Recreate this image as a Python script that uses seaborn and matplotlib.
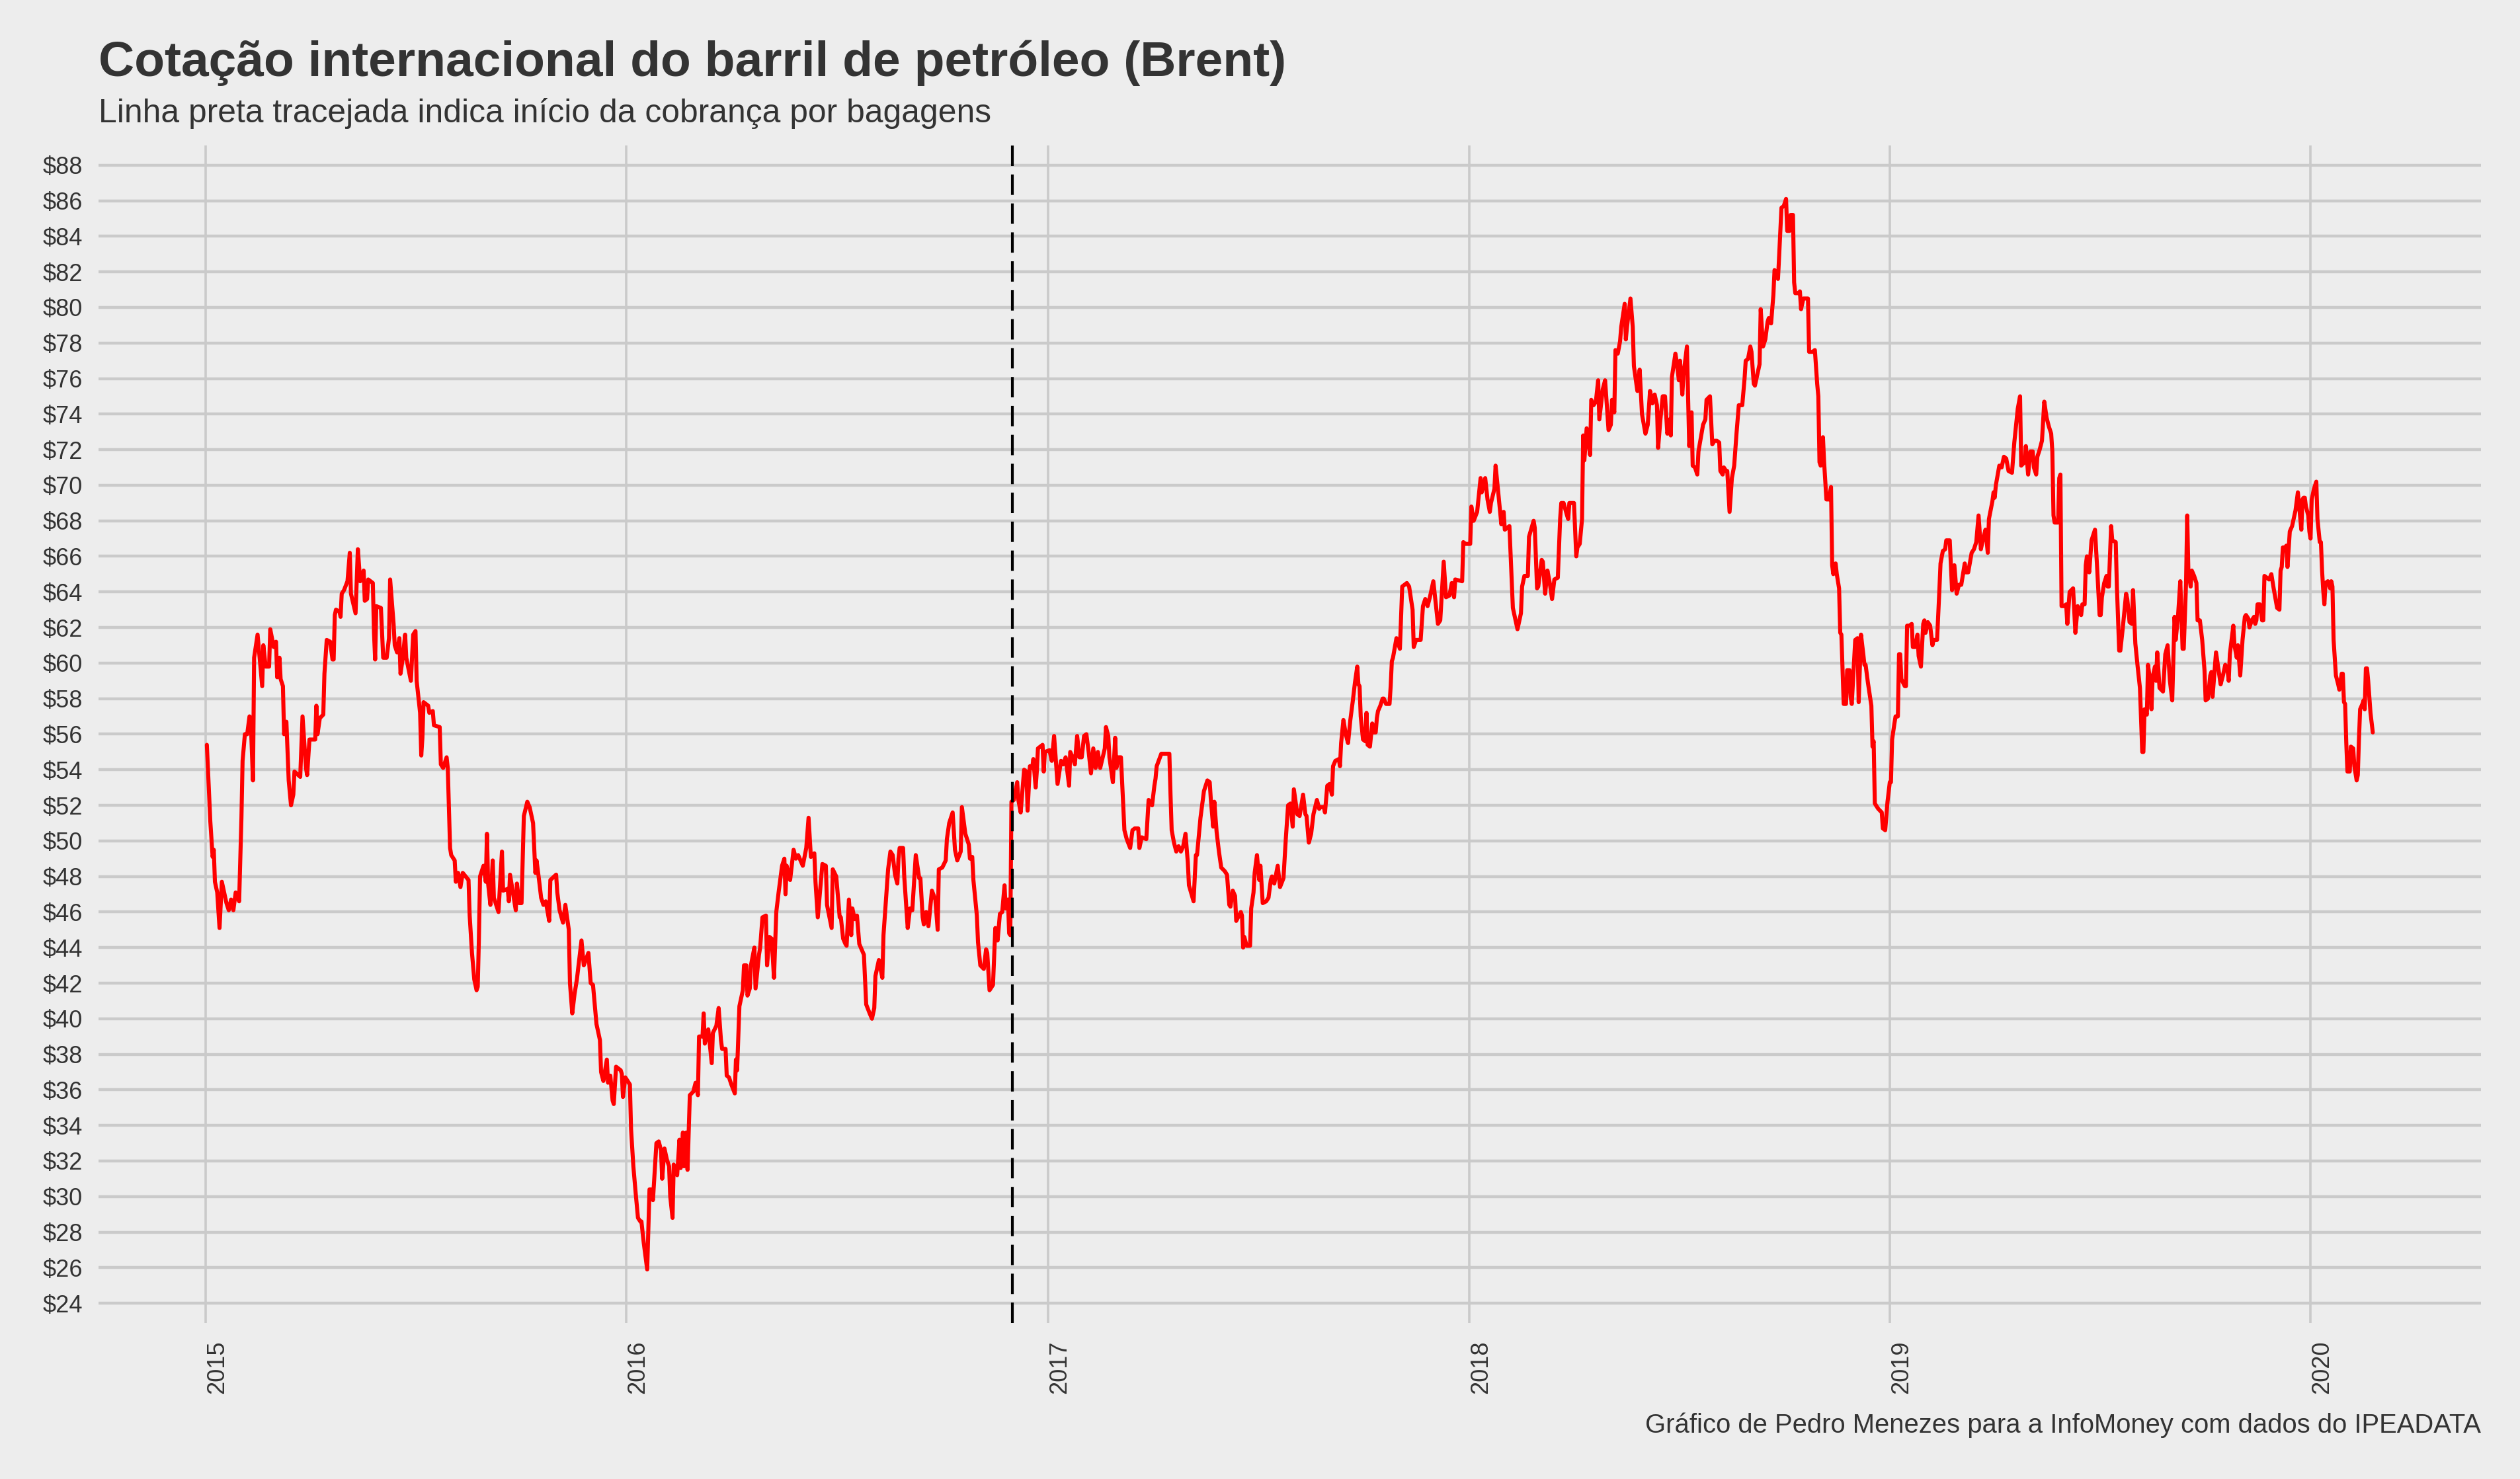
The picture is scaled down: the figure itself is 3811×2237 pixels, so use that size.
import pandas as pd
import matplotlib.pyplot as plt
import matplotlib.dates as mdates
import seaborn as sns

# cotação do Brent (US$), por ano
dias_2015 = ["01-02", "01-05", "01-07", "01-08", "01-09", "01-11", "01-13", "01-15", "01-17", "01-19",
             "01-21", "01-23", "01-25", "01-27", "01-30", "02-01", "02-02", "02-04", "02-06", "02-08",
             "02-09", "02-11", "02-12", "02-15", "02-19", "02-20", "02-22", "02-25", "02-26", "03-01",
             "03-03", "03-04", "03-06", "03-07", "03-09", "03-10", "03-12", "03-14", "03-16", "03-18",
             "03-19", "03-24", "03-26", "03-29", "03-30", "04-01", "04-06", "04-07", "04-08", "04-10",
             "04-13", "04-14", "04-16", "04-19", "04-21", "04-22", "04-23", "04-24", "04-27", "04-28",
             "04-29", "05-01", "05-04", "05-06", "05-07", "05-11", "05-13", "05-15", "05-16", "05-18",
             "05-19", "05-21", "05-22", "05-26", "05-27", "05-28", "05-29", "06-02", "06-04", "06-07",
             "06-09", "06-10", "06-13", "06-14", "06-16", "06-18", "06-19", "06-21", "06-23", "06-24",
             "06-28", "06-30", "07-02", "07-03", "07-06", "07-07", "07-08", "07-09", "07-13", "07-14",
             "07-17", "07-18", "07-23", "07-24", "07-26", "07-29", "07-30", "08-01", "08-02", "08-05",
             "08-06", "08-08", "08-10", "08-12", "08-17", "08-18", "08-20", "08-22", "08-24", "08-25",
             "08-26", "08-27", "08-30", "09-01", "09-02", "09-03", "09-05", "09-07", "09-08", "09-12",
             "09-15", "09-16", "09-20", "09-21", "09-22", "09-24", "09-27", "09-28", "09-30", "10-02",
             "10-04", "10-07", "10-09", "10-12", "10-14", "10-15", "10-17", "10-19", "10-21", "10-23",
             "10-26", "10-27", "11-01", "11-02", "11-04", "11-07", "11-09", "11-12", "11-13", "11-15",
             "11-17", "11-19", "11-23", "11-25", "11-29", "12-01", "12-03", "12-06", "12-09", "12-10",
             "12-12", "12-15", "12-16", "12-18", "12-20", "12-21", "12-23", "12-27", "12-28", "12-29",
             "12-31"]
brent_2015 = [55.4, 51.1, 49.1, 49.5, 47.7, 47.1, 45.1, 47.7, 47.1, 46.5,
              46.1, 46.7, 46.1, 47.1, 46.6, 51.3, 54.5, 56.0, 56.0, 57.0,
              56.9, 53.4, 60.3, 61.6, 58.7, 61.0, 59.8, 59.8, 61.9, 60.9,
              61.2, 59.2, 60.3, 59.1, 58.7, 56.0, 56.7, 53.4, 52.0, 52.6,
              53.9, 53.6, 57.0, 54.1, 53.7, 55.7, 55.7, 57.6, 56.0, 56.9,
              57.1, 59.4, 61.3, 61.2, 60.2, 60.2, 62.7, 63.0, 62.9, 62.6,
              63.9, 64.1, 64.6, 66.2, 63.9, 62.8, 66.4, 64.6, 64.7, 65.2,
              63.5, 63.6, 64.7, 64.5, 61.7, 60.2, 63.2, 63.1, 60.3, 60.3,
              61.4, 64.7, 62.2, 61.0, 60.6, 61.4, 59.4, 60.3, 61.6, 60.3,
              59.0, 61.6, 61.8, 59.0, 57.2, 54.8, 55.8, 57.8, 57.6, 57.2,
              57.3, 56.5, 56.4, 54.3, 54.1, 54.7, 54.1, 49.6, 49.2, 48.9,
              47.7, 48.2, 47.4, 48.2, 47.8, 45.8, 43.7, 42.2, 41.6, 41.8,
              44.5, 48.0, 48.6, 47.7, 50.4, 47.6, 46.4, 48.9, 46.8, 46.0,
              49.4, 47.2, 47.3, 46.6, 48.1, 47.3, 46.1, 47.6, 46.5, 46.5,
              51.4, 52.2, 51.9, 51.0, 48.2, 48.9, 47.9, 46.8, 46.4, 46.6,
              45.5, 47.8, 48.1, 47.1, 46.1, 45.4, 46.4, 45.0, 42.0, 40.3,
              41.4, 42.2, 44.4, 43.0, 43.7, 42.0, 41.9, 39.7, 38.8, 37.0,
              36.5, 37.7, 36.4, 36.8, 35.4, 35.2, 37.3, 37.1, 36.9, 35.6,
              36.7]

dias_2016 = ["01-04", "01-05", "01-07", "01-09", "01-11", "01-13", "01-14", "01-16", "01-19", "01-21",
             "01-22", "01-24", "01-27", "01-29", "01-31", "02-01", "02-03", "02-05", "02-07", "02-08",
             "02-10", "02-11", "02-14", "02-16", "02-17", "02-19", "02-20", "02-22", "02-23", "02-25",
             "02-28", "03-01", "03-03", "03-04", "03-07", "03-08", "03-09", "03-12", "03-15", "03-16",
             "03-19", "03-21", "03-23", "03-24", "03-27", "03-28", "03-30", "04-01", "04-04", "04-05",
             "04-06", "04-08", "04-11", "04-12", "04-14", "04-15", "04-17", "04-18", "04-21", "04-22",
             "04-25", "04-26", "04-28", "05-01", "05-02", "05-04", "05-06", "05-08", "05-10", "05-12",
             "05-15", "05-17", "05-18", "05-19", "05-22", "05-25", "05-27", "05-29", "06-02", "06-05",
             "06-07", "06-09", "06-12", "06-13", "06-15", "06-19", "06-22", "06-23", "06-27", "06-28",
             "07-01", "07-04", "07-05", "07-07", "07-09", "07-10", "07-12", "07-14", "07-15", "07-17",
             "07-19", "07-21", "07-25", "07-27", "07-30", "08-01", "08-03", "08-04", "08-07", "08-10",
             "08-11", "08-15", "08-17", "08-19", "08-21", "08-23", "08-24", "08-25", "08-28", "08-29",
             "09-01", "09-03", "09-05", "09-08", "09-11", "09-12", "09-14", "09-15", "09-17", "09-19",
             "09-22", "09-25", "09-27", "09-28", "10-01", "10-04", "10-05", "10-07", "10-10", "10-12",
             "10-14", "10-17", "10-18", "10-21", "10-24", "10-25", "10-27", "10-28", "10-31", "11-01",
             "11-03", "11-06", "11-08", "11-09", "11-11", "11-14", "11-16", "11-18", "11-20", "11-22",
             "11-24", "11-25", "11-27", "11-28", "11-29", "11-30", "12-02", "12-05", "12-06", "12-08",
             "12-11", "12-13", "12-14", "12-16", "12-18", "12-19", "12-21", "12-22", "12-23", "12-27",
             "12-28", "12-29"]
brent_2016 = [36.3, 33.8, 31.7, 30.2, 28.8, 28.6, 28.6, 27.4, 25.9, 30.4,
              30.4, 29.8, 33.0, 33.1, 32.6, 31.0, 32.7, 32.1, 31.7, 30.0,
              28.8, 31.8, 31.2, 33.2, 31.6, 33.6, 31.7, 33.6, 31.5, 35.7,
              35.9, 36.4, 35.7, 39.0, 39.0, 40.3, 38.6, 39.4, 37.5, 39.2,
              39.6, 40.6, 38.8, 38.3, 38.3, 36.8, 36.7, 36.3, 35.8, 37.7,
              37.1, 40.7, 41.6, 43.0, 43.0, 41.3, 41.7, 43.0, 44.0, 41.7,
              43.6, 44.0, 45.7, 45.8, 43.0, 44.6, 44.5, 42.3, 46.0, 47.1,
              48.6, 49.0, 47.0, 48.6, 47.8, 49.5, 49.0, 49.2, 48.6, 49.6,
              51.3, 49.1, 49.3, 47.7, 45.7, 48.7, 48.6, 46.4, 45.1, 48.4,
              48.0, 45.7, 45.7, 44.5, 44.2, 44.1, 46.7, 44.7, 46.2, 45.6,
              45.8, 44.2, 43.6, 40.8, 40.3, 40.0, 40.6, 42.4, 43.3, 42.3,
              44.7, 48.4, 49.4, 49.2, 48.1, 47.6, 49.0, 49.6, 49.6, 48.0,
              45.1, 46.2, 46.1, 49.2, 47.9, 47.9, 45.7, 45.3, 46.0, 45.2,
              47.2, 46.7, 45.0, 48.4, 48.5, 48.9, 50.1, 51.0, 51.6, 49.5,
              48.9, 49.4, 51.9, 50.4, 49.8, 49.0, 49.1, 47.8, 45.8, 44.3,
              43.0, 42.8, 43.9, 43.7, 41.6, 41.9, 45.1, 44.4, 45.9, 46.0,
              47.5, 46.2, 46.7, 44.8, 44.7, 52.2, 52.3, 53.3, 52.3, 51.6,
              54.0, 53.9, 51.7, 54.2, 54.1, 54.6, 53.0, 53.9, 55.2, 55.4,
              53.9, 55.0]

dias_2017 = ["01-02", "01-04", "01-06", "01-09", "01-12", "01-14", "01-16", "01-19", "01-20", "01-22",
             "01-24", "01-26", "01-28", "01-30", "02-01", "02-03", "02-05", "02-07", "02-09", "02-11",
             "02-13", "02-15", "02-19", "02-20", "02-22", "02-23", "02-26", "02-28", "03-01", "03-03",
             "03-05", "03-08", "03-10", "03-13", "03-15", "03-17", "03-20", "03-21", "03-23", "03-27",
             "03-29", "04-01", "04-03", "04-04", "04-05", "04-09", "04-16", "04-17", "04-18", "04-20",
             "04-22", "04-24", "04-26", "04-28", "04-30", "05-02", "05-03", "05-07", "05-09", "05-10",
             "05-13", "05-14", "05-16", "05-19", "05-21", "05-22", "05-24", "05-25", "05-27", "05-29",
             "05-31", "06-03", "06-05", "06-07", "06-08", "06-10", "06-12", "06-13", "06-17", "06-18",
             "06-19", "06-20", "06-22", "06-25", "06-26", "06-28", "06-29", "07-01", "07-03", "07-04",
             "07-06", "07-09", "07-11", "07-13", "07-14", "07-16", "07-19", "07-21", "07-24", "07-26",
             "07-28", "07-30", "08-01", "08-02", "08-05", "08-07", "08-10", "08-12", "08-13", "08-15",
             "08-17", "08-19", "08-22", "08-24", "08-25", "08-28", "08-29", "08-31", "09-02", "09-04",
             "09-05", "09-07", "09-10", "09-11", "09-12", "09-14", "09-16", "09-18", "09-20", "09-22",
             "09-24", "09-26", "09-27", "09-28", "09-29", "10-01", "10-03", "10-04", "10-05", "10-07",
             "10-09", "10-10", "10-12", "10-13", "10-14", "10-16", "10-18", "10-19", "10-21", "10-24",
             "10-25", "10-26", "10-27", "10-30", "11-02", "11-04", "11-08", "11-10", "11-13", "11-14",
             "11-16", "11-20", "11-22", "11-24", "11-26", "11-28", "12-01", "12-03", "12-05", "12-07",
             "12-10", "12-12", "12-15", "12-17", "12-19", "12-20", "12-26", "12-27", "12-29"]
brent_2017 = [55.1, 54.5, 55.9, 53.2, 54.5, 54.3, 54.7, 53.1, 55.0, 54.7,
              54.3, 55.9, 54.7, 54.7, 55.9, 56.0, 55.0, 53.8, 55.2, 54.1,
              55.0, 54.1, 55.2, 56.4, 55.9, 54.7, 53.3, 55.8, 54.1, 54.7,
              54.7, 50.6, 50.1, 49.6, 50.6, 50.7, 50.7, 49.6, 50.2, 50.1,
              52.3, 52.0, 53.1, 53.5, 54.2, 54.9, 54.9, 52.6, 50.6, 49.9,
              49.4, 49.7, 49.4, 49.7, 50.4, 48.8, 47.5, 46.6, 49.2, 49.2,
              51.3, 51.8, 52.8, 53.4, 53.3, 52.3, 50.8, 52.2, 50.5, 49.4,
              48.5, 48.3, 48.1, 46.4, 46.3, 47.2, 46.9, 45.5, 46.0, 45.8,
              44.0, 44.6, 44.1, 44.1, 46.2, 47.1, 48.2, 49.2, 47.8, 48.6,
              46.5, 46.6, 46.8, 47.8, 48.0, 47.6, 48.6, 47.4, 47.9, 50.1,
              52.0, 52.1, 50.8, 52.9, 51.5, 51.4, 52.6, 51.5, 51.4, 49.9,
              50.4, 51.5, 52.3, 51.8, 51.9, 51.9, 51.6, 53.1, 53.2, 52.6,
              54.2, 54.5, 54.6, 54.2, 55.5, 56.8, 56.0, 55.5, 56.8, 57.8,
              58.9, 59.8, 58.8, 58.7, 57.0, 55.7, 55.6, 57.2, 55.4, 55.3,
              56.6, 56.1, 56.1, 56.9, 57.3, 57.6, 58.0, 58.0, 57.7, 57.7,
              58.7, 60.1, 60.3, 61.4, 60.8, 64.3, 64.5, 64.3, 63.0, 60.9,
              61.3, 61.3, 63.2, 63.6, 63.2, 63.7, 64.6, 63.4, 62.2, 62.4,
              65.7, 63.7, 63.8, 64.5, 63.7, 64.7, 64.6, 66.8, 66.7]

dias_2018 = ["01-02", "01-03", "01-05", "01-08", "01-11", "01-12", "01-15", "01-17", "01-19", "01-20",
             "01-23", "01-24", "01-26", "01-29", "01-31", "02-01", "02-05", "02-08", "02-12", "02-15",
             "02-16", "02-18", "02-21", "02-22", "02-26", "02-27", "03-01", "03-02", "03-05", "03-06",
             "03-08", "03-10", "03-12", "03-14", "03-16", "03-19", "03-21", "03-22", "03-24", "03-27",
             "03-28", "03-29", "04-02", "04-04", "04-05", "04-07", "04-09", "04-10", "04-11", "04-13",
             "04-16", "04-17", "04-19", "04-21", "04-23", "04-24", "04-27", "04-29", "05-02", "05-04",
             "05-05", "05-07", "05-08", "05-10", "05-12", "05-13", "05-16", "05-17", "05-18", "05-21",
             "05-23", "05-24", "05-27", "05-29", "05-31", "06-03", "06-05", "06-07", "06-09", "06-11",
             "06-13", "06-14", "06-16", "06-18", "06-20", "06-22", "06-24", "06-25", "06-26", "06-29",
             "06-30", "07-02", "07-03", "07-05", "07-06", "07-09", "07-11", "07-13", "07-14", "07-16",
             "07-18", "07-19", "07-23", "07-25", "07-26", "07-29", "07-31", "08-02", "08-04", "08-06",
             "08-07", "08-09", "08-10", "08-12", "08-13", "08-15", "08-17", "08-19", "08-21", "08-23",
             "08-26", "08-28", "08-29", "08-31", "09-02", "09-03", "09-05", "09-06", "09-10", "09-11",
             "09-13", "09-15", "09-17", "09-18", "09-20", "09-22", "09-23", "09-26", "09-27", "09-29",
             "10-01", "10-03", "10-04", "10-06", "10-07", "10-09", "10-10", "10-11", "10-14", "10-15",
             "10-16", "10-18", "10-22", "10-23", "10-26", "10-28", "10-30", "10-31", "11-01", "11-02",
             "11-04", "11-05", "11-07", "11-09", "11-11", "11-12", "11-13", "11-15", "11-16", "11-18",
             "11-19", "11-20", "11-22", "11-24", "11-25", "11-27", "11-28", "11-29", "12-02", "12-04",
             "12-05", "12-07", "12-09", "12-10", "12-11", "12-13", "12-16", "12-17", "12-18", "12-19",
             "12-22", "12-25", "12-26", "12-28", "12-30"]
brent_2018 = [66.7, 68.8, 68.0, 68.5, 70.4, 69.6, 70.4, 69.2, 68.5, 69.0,
              69.8, 71.1, 69.8, 67.8, 68.5, 67.5, 67.7, 63.1, 61.9, 62.8,
              64.3, 64.9, 64.9, 67.1, 68.0, 67.6, 64.2, 64.3, 65.8, 65.7,
              63.9, 65.2, 64.5, 63.6, 64.7, 64.8, 68.1, 69.0, 69.0, 68.3,
              68.1, 69.0, 69.0, 66.0, 66.5, 66.7, 68.1, 72.8, 71.4, 73.2,
              71.7, 74.8, 74.5, 74.7, 75.9, 73.7, 75.4, 75.9, 73.1, 73.4,
              74.8, 74.1, 77.6, 77.4, 78.1, 78.9, 80.2, 78.2, 78.9, 80.5,
              78.9, 76.7, 75.3, 76.5, 74.0, 72.9, 73.4, 75.3, 74.6, 75.1,
              74.5, 72.1, 73.7, 75.0, 75.0, 72.9, 73.7, 72.8, 76.1, 77.4,
              77.0, 75.9, 77.0, 75.1, 76.2, 77.8, 72.2, 74.1, 71.1, 71.0,
              70.6, 71.9, 73.4, 73.7, 74.8, 75.0, 72.3, 72.5, 72.5, 72.4,
              70.8, 70.6, 71.0, 70.8, 70.8, 68.5, 70.4, 71.1, 72.9, 74.5,
              74.5, 76.0, 77.0, 77.1, 77.8, 77.5, 75.7, 75.6, 76.8, 79.9,
              77.8, 78.2, 79.2, 79.4, 79.1, 80.7, 82.1, 81.6, 82.9, 85.6,
              85.7, 86.1, 84.3, 84.3, 85.2, 85.2, 81.4, 80.8, 80.8, 80.9,
              79.9, 80.5, 80.5, 77.5, 77.5, 77.6, 75.7, 75.0, 71.3, 71.1,
              72.7, 71.3, 69.2, 69.2, 69.9, 65.5, 65.0, 65.6, 65.0, 64.2,
              61.7, 61.6, 57.7, 57.7, 59.6, 59.6, 58.1, 57.7, 61.3, 61.4,
              57.8, 61.6, 60.5, 59.9, 59.9, 58.9, 57.6, 55.3, 55.6, 52.1,
              51.8, 51.6, 50.7, 50.6, 52.2]

dias_2019 = ["01-01", "01-02", "01-03", "01-05", "01-06", "01-08", "01-09", "01-10", "01-11", "01-14",
             "01-15", "01-16", "01-18", "01-20", "01-21", "01-23", "01-25", "01-26", "01-28", "01-30",
             "01-31", "02-01", "02-03", "02-05", "02-07", "02-08", "02-11", "02-12", "02-13", "02-14",
             "02-16", "02-18", "02-19", "02-22", "02-24", "02-26", "02-28", "03-02", "03-04", "03-07",
             "03-08", "03-10", "03-13", "03-15", "03-17", "03-19", "03-21", "03-23", "03-25", "03-27",
             "03-28", "03-31", "04-01", "04-02", "04-03", "04-06", "04-08", "04-10", "04-12", "04-14",
             "04-17", "04-19", "04-22", "04-24", "04-25", "04-28", "04-29", "05-01", "05-03", "05-05",
             "05-06", "05-08", "05-09", "05-11", "05-13", "05-15", "05-17", "05-19", "05-21", "05-22",
             "05-23", "05-24", "05-27", "05-28", "05-29", "05-30", "06-01", "06-03", "06-04", "06-06",
             "06-09", "06-11", "06-13", "06-15", "06-16", "06-17", "06-19", "06-20", "06-21", "06-23",
             "06-25", "06-28", "06-30", "07-02", "07-03", "07-04", "07-06", "07-08", "07-09", "07-10",
             "07-12", "07-13", "07-16", "07-17", "07-19", "07-20", "07-22", "07-25", "07-26", "07-28",
             "07-30", "07-31", "08-02", "08-04", "08-06", "08-08", "08-09", "08-10", "08-12", "08-13",
             "08-15", "08-16", "08-17", "08-19", "08-20", "08-21", "08-23", "08-26", "08-28", "08-30",
             "09-01", "09-03", "09-05", "09-06", "09-08", "09-10", "09-12", "09-13", "09-15", "09-16",
             "09-17", "09-19", "09-20", "09-22", "09-24", "09-25", "09-27", "09-29", "10-01", "10-02",
             "10-04", "10-06", "10-07", "10-08", "10-10", "10-11", "10-13", "10-15", "10-17", "10-19",
             "10-21", "10-22", "10-23", "10-26", "10-27", "10-29", "10-30", "11-01", "11-03", "11-05",
             "11-06", "11-08", "11-09", "11-11", "11-13", "11-14", "11-15", "11-16", "11-18", "11-20",
             "11-21", "11-22", "11-24", "11-26", "11-28", "11-30", "12-03", "12-05", "12-06", "12-07",
             "12-08", "12-10", "12-11", "12-12", "12-14", "12-16", "12-17", "12-19", "12-21", "12-23",
             "12-24", "12-25", "12-26", "12-27", "12-28", "12-30", "12-31"]
brent_2019 = [53.3, 53.3, 55.7, 56.6, 57.0, 57.0, 60.5, 60.5, 59.1, 58.7,
              58.7, 62.1, 62.1, 62.2, 60.9, 60.9, 61.6, 60.4, 59.8, 62.2,
              62.4, 61.7, 62.3, 62.1, 61.0, 61.3, 61.3, 62.7, 64.1, 65.6,
              66.3, 66.4, 66.9, 66.9, 64.1, 65.5, 63.9, 64.4, 64.4, 65.6,
              65.1, 65.1, 66.2, 66.4, 66.8, 68.3, 66.4, 67.0, 67.5, 66.2,
              68.1, 69.1, 69.6, 69.3, 70.0, 71.1, 71.0, 71.6, 71.5, 70.8,
              70.7, 72.4, 74.3, 75.0, 71.1, 71.3, 72.2, 70.6, 71.9, 71.9,
              71.0, 70.6, 71.6, 72.0, 72.5, 74.7, 73.8, 73.3, 72.9, 71.9,
              68.3, 67.9, 67.9, 70.4, 70.6, 63.2, 63.2, 63.3, 62.2, 64.0,
              64.2, 61.7, 63.2, 62.8, 62.7, 63.3, 63.3, 65.5, 66.0, 65.1,
              66.9, 67.5, 65.2, 62.7, 62.7, 63.7, 64.5, 64.9, 64.3, 64.3,
              67.7, 66.9, 66.8, 64.3, 60.7, 60.7, 61.9, 63.9, 63.6, 62.3,
              62.2, 64.1, 61.1, 59.8, 58.6, 55.0, 55.0, 57.4, 57.1, 59.9,
              58.9, 57.4, 59.2, 59.8, 59.0, 60.6, 58.6, 58.4, 60.5, 61.0,
              59.0, 57.9, 62.6, 61.3, 62.6, 64.6, 60.8, 60.8, 64.5, 68.3,
              65.2, 64.3, 65.2, 64.9, 64.5, 62.4, 62.4, 61.3, 59.6, 57.9,
              58.0, 59.3, 59.5, 58.1, 59.8, 60.6, 59.7, 58.8, 59.3, 59.9,
              59.6, 59.0, 60.5, 62.1, 61.0, 60.3, 61.0, 59.3, 61.3, 62.6,
              62.7, 62.5, 62.0, 62.4, 62.6, 62.2, 62.4, 63.3, 63.3, 62.4,
              62.4, 64.9, 64.8, 64.7, 65.0, 64.2, 63.1, 63.0, 65.2, 65.4,
              66.5, 66.5, 66.6, 65.4, 67.4, 67.7, 68.0, 68.6, 69.6, 68.2,
              67.5, 69.2, 69.3, 69.3, 68.8, 68.3, 67.4]

dias_2020 = ["01-01", "01-02", "01-04", "01-06", "01-07", "01-09", "01-10", "01-11", "01-12", "01-13",
             "01-14", "01-16", "01-18", "01-19", "01-20", "01-21", "01-23", "01-25", "01-26", "01-28",
             "01-29", "01-30", "01-31", "02-01", "02-02", "02-04", "02-05", "02-07", "02-08", "02-10",
             "02-11", "02-12", "02-13", "02-15", "02-16", "02-17", "02-18", "02-19", "02-20", "02-22",
             "02-24"]
brent_2020 = [67.0, 69.2, 69.8, 70.2, 68.1, 66.8, 66.8, 65.2, 64.1, 63.3,
              64.5, 64.6, 64.2, 64.6, 64.3, 61.3, 59.3, 58.8, 58.5, 59.4,
              59.4, 57.8, 57.7, 55.5, 53.9, 53.9, 55.3, 55.2, 54.2, 53.4,
              53.7, 55.7, 57.4, 57.7, 57.9, 57.4, 59.7, 59.7, 59.0, 57.2,
              56.1]

inicio_cobranca = "2016-12-01"
precos_eixo = list(range(24, 89, 2))

titulo = "Cotação internacional do barril de petróleo (Brent)"
subtitulo = "Linha preta tracejada indica início da cobrança por bagagens"
fonte = "Gráfico de Pedro Menezes para a InfoMoney com dados do IPEADATA"

anos = {
    2015: (dias_2015, brent_2015),
    2016: (dias_2016, brent_2016),
    2017: (dias_2017, brent_2017),
    2018: (dias_2018, brent_2018),
    2019: (dias_2019, brent_2019),
    2020: (dias_2020, brent_2020),
}
partes = []
for ano, (dias, precos) in anos.items():
    partes.append(pd.DataFrame({
        "data": pd.to_datetime([f"{ano}-{d}" for d in dias]),
        "preco": precos,
    }))
df = pd.concat(partes, ignore_index=True)

fundo = "#EDEDED"
grade = "#CACACA"
texto = "#333333"

sns.set_style("white")
plt.rcParams["font.family"] = ["Liberation Sans", "DejaVu Sans"]

fig = plt.figure(figsize=(19.06, 11.185), dpi=200, facecolor=fundo)
ax = fig.add_axes([0.0391, 0.1055, 0.9452, 0.7962])
ax.set_facecolor(fundo)

sns.lineplot(data=df, x="data", y="preco", color="#FF0000", linewidth=2.2,
             estimator=None, ax=ax, zorder=3)
ax.axvline(pd.Timestamp(inicio_cobranca), color="black", linewidth=1.5,
           dashes=(7.4, 3.1), zorder=4)

ax.set_yticks(precos_eixo)
ax.set_yticklabels([f"${p}" for p in precos_eixo])
ax.xaxis.set_major_locator(mdates.YearLocator())
ax.xaxis.set_major_formatter(mdates.DateFormatter("%Y"))

ax.set_axisbelow(True)
ax.grid(axis="y", color=grade, linewidth=1.6)
ax.grid(axis="x", color=grade, linewidth=1.3)
for s in ax.spines.values():
    s.set_visible(False)
ax.set_xlabel("")
ax.set_ylabel("")

ax.tick_params(axis="y", length=0, pad=8.6, labelsize=13, labelcolor=texto)
ax.tick_params(axis="x", length=0, pad=9.4, labelsize=13, labelcolor=texto)
for lbl in ax.get_xticklabels():
    lbl.set_rotation(90)
    lbl.set_ha("left")
    lbl.set_va("top")

fig.text(0.0391, 0.9486, titulo, fontsize=27.0, fontweight="bold", color=texto,
         ha="left", va="baseline")
fig.text(0.0391, 0.9173, subtitulo, fontsize=17.9, color=texto,
         ha="left", va="baseline")
fig.text(0.9843, 0.0313, fonte, fontsize=14.4, color=texto,
         ha="right", va="baseline")

fig.savefig("out.png", dpi=200, facecolor=fundo)
